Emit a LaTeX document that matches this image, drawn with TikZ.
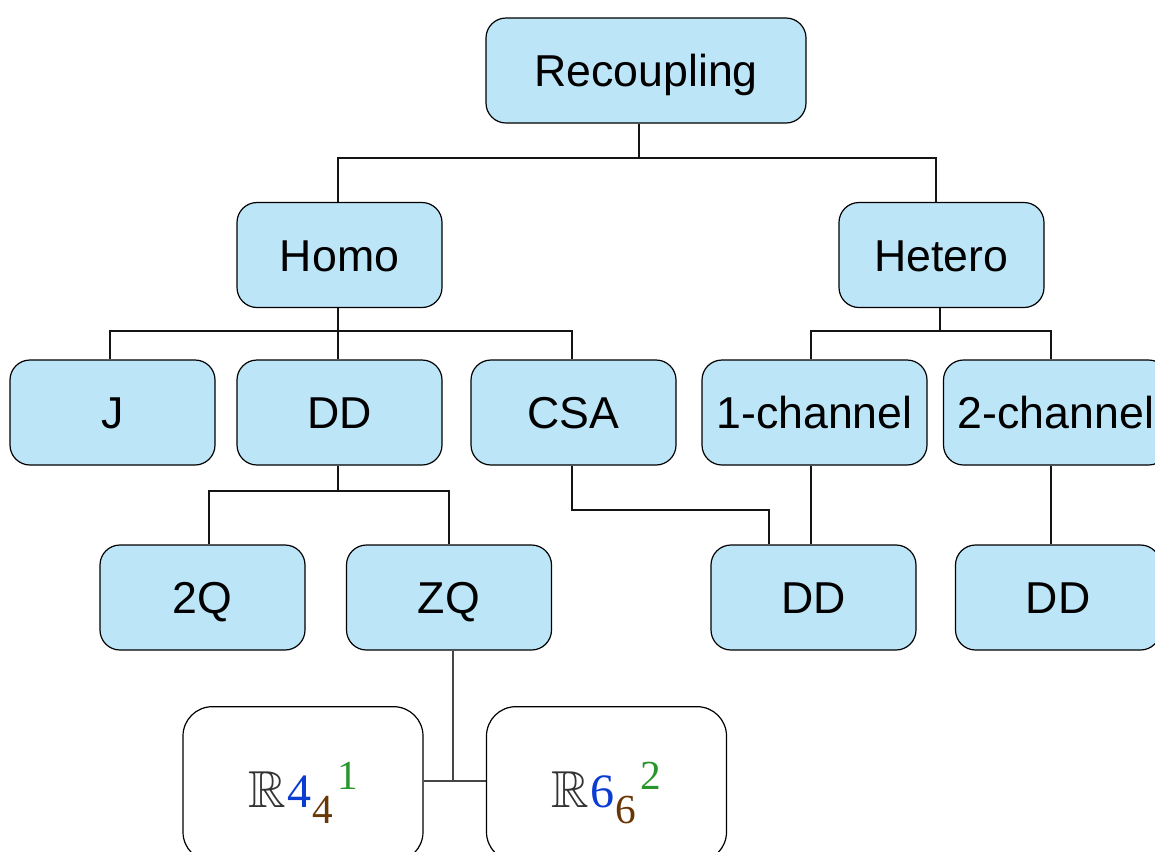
\documentclass[tikz,border=0pt]{standalone}
\usepackage{amssymb}
\usepackage{fontspec}
\setmainfont{Liberation Sans}
\newfontfamily\numfont{Liberation Serif}
\definecolor{boxblue}{RGB}{189,229,248}
\definecolor{idxblue}{RGB}{10,60,210}
\definecolor{idxbrown}{RGB}{105,55,5}
\definecolor{idxgreen}{RGB}{40,150,45}
\definecolor{lineblack}{RGB}{20,20,20}
\definecolor{linegray}{RGB}{70,70,70}
\newcommand{\symlabel}[3]{%
  {\fontsize{39}{40}\selectfont\textcolor{black!80}{$\mathbb{R}$}}%
  {\numfont\fontsize{36}{40}\selectfont\kern1pt\textcolor{idxblue}{#1}%
   \fontsize{31}{34}\selectfont\kern1pt\raisebox{-12.5pt}{\textcolor{idxbrown}{#2}}%
   \kern3pt\raisebox{13.5pt}{\textcolor{idxgreen}{#3}}}}
\begin{document}
\begin{tikzpicture}[x=0.75pt,y=-0.75pt,
  catbox/.style={draw=black, line width=0.9pt, fill=boxblue, rounded corners=15pt,
    inner sep=0pt, minimum width=153.75pt, minimum height=78.75pt,
    font=\fontsize{33.5}{40}\selectfont, text height=24pt, text depth=0pt},
  widebox/.style={catbox, minimum width=168.75pt},
  seqbox/.style={draw=black, line width=0.9pt, fill=white, rounded corners=22pt,
    inner sep=0pt, minimum width=180pt, minimum height=116pt,
    text height=34.5pt, text depth=0pt},
  conn/.style={draw=lineblack, line width=1.3pt},
  conngray/.style={draw=linegray, line width=1.3pt}]
\useasboundingbox (0,0) rectangle (1155,851);
\clip (0,0) rectangle (1155,851);

% category boxes
\node[catbox, minimum width=240pt] (rec) at (646,70.5) {Recoupling};
\node[catbox] (homo)   at (339.5,255) {Homo};
\node[catbox] (hetero) at (941.5,255) {Hetero};
\node[catbox] (j)      at (112.5,412.5) {J};
\node[catbox] (dd)     at (339.5,412.5) {DD};
\node[catbox] (csa)    at (573.5,412.5) {CSA};
\node[widebox] (onech) at (814.5,412.5) {1-channel};
\node[widebox] (twoch) at (1056,412.5) {2-channel};
\node[catbox] (twoq)   at (202.5,597.5) {2Q};
\node[catbox] (zq)     at (449,597.5) {ZQ};
\node[catbox] (ddc)    at (813.5,597.5) {DD};
\node[catbox] (ddt)    at (1058,597.5) {DD};

% symmetry-based sequences
\node[seqbox] (rfour) at (303,784) {\symlabel{4}{4}{1}};
\node[seqbox] (rsix)  at (606.5,784) {\symlabel{6}{6}{2}};

% tree connectors
\coordinate (b1) at (639,158);
\draw[conn] (rec.south -| b1) -- (b1);
\draw[conn] (homo.north -| 338,0) |- (b1) -| (hetero.north -| 936,0);

\coordinate (b2) at (338,331);
\draw[conn] (homo.south -| b2) -- (dd.north -| b2);
\draw[conn] (j.north -| 110,0) |- (b2) -| (csa.north -| 572,0);

\coordinate (b3) at (940,331);
\draw[conn] (hetero.south -| b3) -- (b3);
\draw[conn] (onech.north -| 811,0) |- (b3) -| (twoch.north -| 1051,0);

\coordinate (b4) at (338,491);
\draw[conn] (dd.south -| b4) -- (b4);
\draw[conn] (twoq.north -| 209,0) |- (b4) -| (zq.north -| 449,0);

\coordinate (b5) at (769,510);
\draw[conn] (csa.south -| 572,0) |- (b5) -- (ddc.north -| b5);
\draw[conn] (onech.south -| 811,0) -- (ddc.north -| 811,0);
\draw[conn] (twoch.south -| 1051,0) -- (ddt.north -| 1051,0);

\coordinate (b6) at (453,781);
\draw[conngray] (zq.south -| b6) -- (b6);
\draw[conngray] (rfour.east |- b6) -- (rsix.west |- b6);
\end{tikzpicture}
\end{document}
